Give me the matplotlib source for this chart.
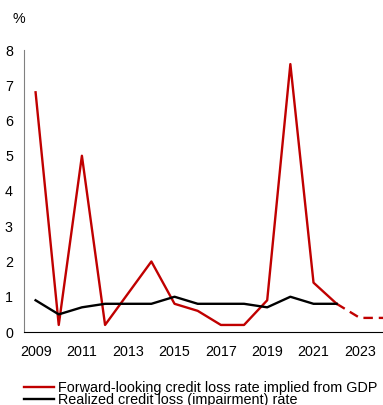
import matplotlib.pyplot as plt
import numpy as np

plt.rcParams['font.family'] = ['Liberation Sans', 'DejaVu Sans']

years = np.arange(2009, 2023)
forward_rate = [6.8, 0.2, 5.0, 0.2, 1.1, 2.0, 0.8, 0.6, 0.2, 0.2, 0.9, 7.6, 1.4, 0.8]
realized_rate = [0.9, 0.5, 0.7, 0.8, 0.8, 0.8, 1.0, 0.8, 0.8, 0.8, 0.7, 1.0, 0.8, 0.8]
proj_years = [2022, 2023, 2024]
proj_rate = [0.8, 0.4, 0.4]
xticks = [2009, 2011, 2013, 2015, 2017, 2019, 2021, 2023]

red = '#c00000'

fig = plt.figure(figsize=(3.83, 4.05), dpi=100)
ax = fig.add_axes([24 / 383, 1 - 332 / 405, 1 - 24 / 383, (332 - 50) / 405])

ax.plot(years, forward_rate, color=red, lw=1.7,
        label='Forward-looking credit loss rate implied from GDP')
ax.plot(proj_years, proj_rate, color=red, lw=1.7, ls=(0, (4, 2.5)))
ax.plot(years, realized_rate, color='black', lw=1.7,
        label='Realized credit loss (impairment) rate')

ax.set_xlim(2008.5, 2024)
ax.set_ylim(0, 8)
ax.set_xticks(xticks)
ax.set_yticks(range(0, 9))
ax.tick_params(length=0, labelsize=10.3)
ax.tick_params(axis='x', pad=9)
ax.tick_params(axis='y', pad=8)

for side in ['top', 'right']:
    ax.spines[side].set_visible(False)
ax.spines['left'].set_color('#808080')
ax.spines['bottom'].set_color('black')

fig.text(19 / 383, 1 - 19 / 405, '%', fontsize=10.3, ha='center', va='center')

fig.legend(loc='upper left', bbox_to_anchor=(18 / 383, 1 - 375 / 405),
           frameon=False, fontsize=10.4, handlelength=2.1, handletextpad=0.28,
           borderaxespad=0, labelspacing=-0.1)

fig.savefig('out.png', dpi=100)
